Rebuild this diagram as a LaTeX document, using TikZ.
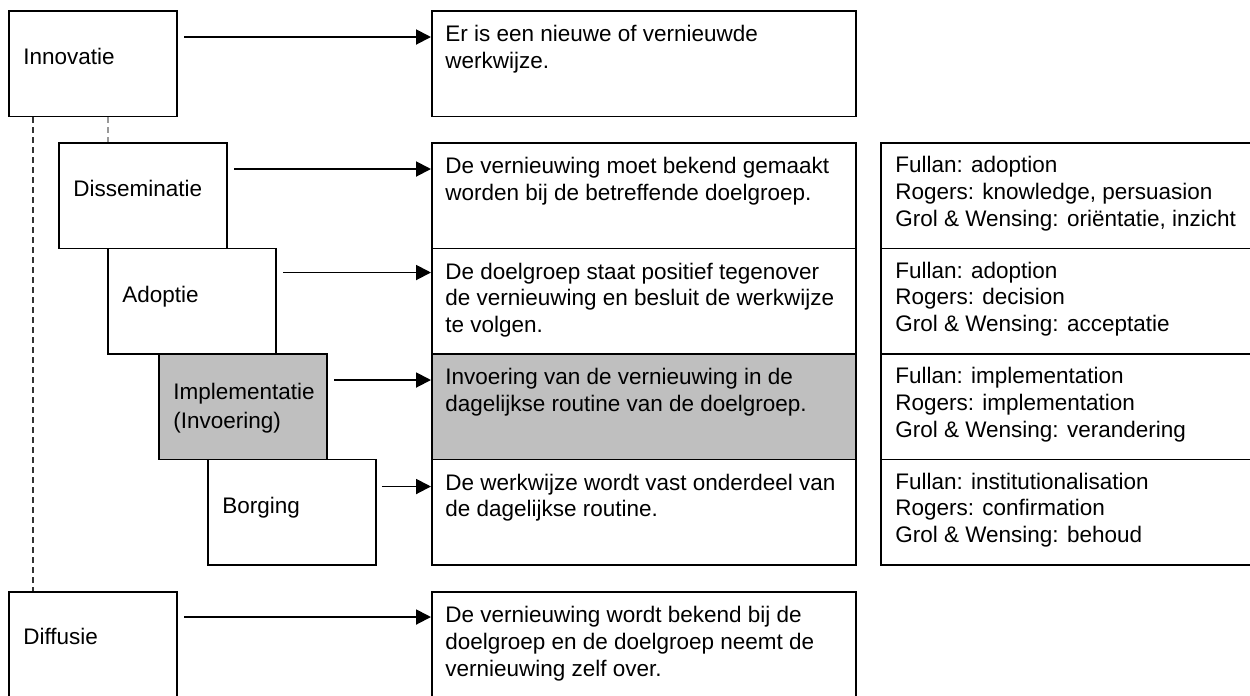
\documentclass[tikz,border=0pt]{standalone}
\usepackage{fontspec}
\setmainfont{Liberation Sans}
\usetikzlibrary{positioning,arrows.meta}

\tikzset{
  fase/.style={draw, line width=1pt, minimum width=3.36cm, minimum height=2.11cm, anchor=north west, inner sep=0pt},
  uitleg/.style={draw, line width=1pt, minimum width=8.48cm, minimum height=2.11cm, anchor=north west, inner sep=0pt},
  bron/.style={draw, line width=1pt, minimum width=8cm, minimum height=2.11cm, anchor=north west, inner sep=0pt},
  tekst/.style={inner sep=0pt, anchor=north west, align=left, font=\fontsize{12.8}{15.2}\selectfont},
  pijl/.style={line width=1.1pt, -{Triangle[length=0.3cm,width=0.3cm]}},
  stip/.style={line width=1pt, dash pattern=on 0.12cm off 0.08cm},
  grijs/.style={fill=black!25},
}

\begin{document}
\begin{tikzpicture}
	\useasboundingbox (0,0) rectangle (25,-13.9);
	% fasen links
	\node[fase] (innov) at (0.16,-0.20) {};
	\node[fase] (dissem) at (1.16,-2.84) {};
	\node[fase] (adopt) at (2.14,-4.95) {};
	\node[fase,grijs] (impl) at (3.16,-7.06) {};
	\node[fase] (borg) at (4.14,-9.17) {};
	\node[fase,minimum height=2.4cm] (diff) at (0.16,-11.82) {};
	% uitleg midden
	\node[uitleg] (u0) at (8.62,-0.20) {};
	\node[uitleg] (u1) at (8.62,-2.84) {};
	\node[uitleg] (u2) at (8.62,-4.95) {};
	\node[uitleg,grijs] (u3) at (8.62,-7.06) {};
	\node[uitleg] (u4) at (8.62,-9.17) {};
	\node[uitleg,minimum height=2.4cm] (u5) at (8.62,-11.82) {};
	% bronnen rechts
	\node[bron] (b1) at (17.60,-2.84) {};
	\node[bron] (b2) at (17.60,-4.95) {};
	\node[bron] (b3) at (17.60,-7.06) {};
	\node[bron] (b4) at (17.60,-9.17) {};
	% stippellijnen
	\draw[stip,black!80] ([xshift=0.5cm]innov.south west) -- ([xshift=0.5cm]diff.north west);
	\draw[stip,black!40] ([xshift=2cm]innov.south west) -- ([xshift=2cm]innov.south west |- dissem.north);
	% teksten
	\node[tekst, below right=0.76cm and 0.30cm of innov.north west] (tinnov) {Innovatie};
	\node[tekst, below right=0.76cm and 0.30cm of dissem.north west] (tdissem) {Disseminatie};
	\node[tekst, below right=0.76cm and 0.30cm of adopt.north west] (tadopt) {Adoptie};
	\node[tekst, below right=0.60cm and 0.30cm of impl.north west] (timpl) {Implementatie\\[1pt](Invoering)};
	\node[tekst, below right=0.76cm and 0.30cm of borg.north west] (tborg) {Borging};
	\node[tekst, below right=0.74cm and 0.30cm of diff.north west] (tdiff) {Diffusie};
	\node[tekst, below right=0.30cm and 0.28cm of u0.north west] (tu0) {Er is een nieuwe of vernieuwde\\werkwijze.};
	\node[tekst, below right=0.30cm and 0.28cm of u1.north west] (tu1) {De vernieuwing moet bekend gemaakt\\worden bij de betreffende doelgroep.};
	\node[tekst, below right=0.30cm and 0.28cm of u2.north west] (tu2) {De doelgroep staat positief tegenover\\de vernieuwing en besluit de werkwijze\\te volgen.};
	\node[tekst, below right=0.30cm and 0.28cm of u3.north west] (tu3) {Invoering van de vernieuwing in de\\dagelijkse routine van de doelgroep.};
	\node[tekst, below right=0.30cm and 0.28cm of u4.north west] (tu4) {De werkwijze wordt vast onderdeel van\\de dagelijkse routine.};
	\node[tekst, below right=0.30cm and 0.28cm of u5.north west] (tu5) {De vernieuwing wordt bekend bij de\\doelgroep en de doelgroep neemt de\\vernieuwing zelf over.};
	\node[tekst, below right=0.28cm and 0.30cm of b1.north west] (tb1) {Fullan: adoption\\Rogers: knowledge, persuasion\\Grol \& Wensing: oriëntatie, inzicht};
	\node[tekst, below right=0.28cm and 0.30cm of b2.north west] (tb2) {Fullan: adoption\\Rogers: decision\\Grol \& Wensing: acceptatie};
	\node[tekst, below right=0.28cm and 0.30cm of b3.north west] (tb3) {Fullan: implementation\\Rogers: implementation\\Grol \& Wensing: verandering};
	\node[tekst, below right=0.28cm and 0.30cm of b4.north west] (tb4) {Fullan: institutionalisation\\Rogers: confirmation\\Grol \& Wensing: behoud};
	% pijlen
	\draw[pijl] ([xshift=0.13cm,yshift=-0.54cm]innov.north east) -- ([yshift=-0.54cm]u0.north west);
	\draw[pijl] ([xshift=0.13cm,yshift=-0.54cm]dissem.north east) -- ([yshift=-0.54cm]u1.north west);
	\draw[pijl] ([xshift=0.13cm,yshift=-0.50cm]adopt.north east) -- ([yshift=-0.50cm]u2.north west);
	\draw[pijl] ([xshift=0.13cm,yshift=-0.54cm]impl.north east) -- ([yshift=-0.54cm]u3.north west);
	\draw[pijl] ([xshift=0.10cm,yshift=-0.56cm]borg.north east) -- ([yshift=-0.56cm]u4.north west);
	\draw[pijl] ([xshift=0.13cm,yshift=-0.52cm]diff.north east) -- ([yshift=-0.52cm]u5.north west);
\end{tikzpicture}
\end{document}
